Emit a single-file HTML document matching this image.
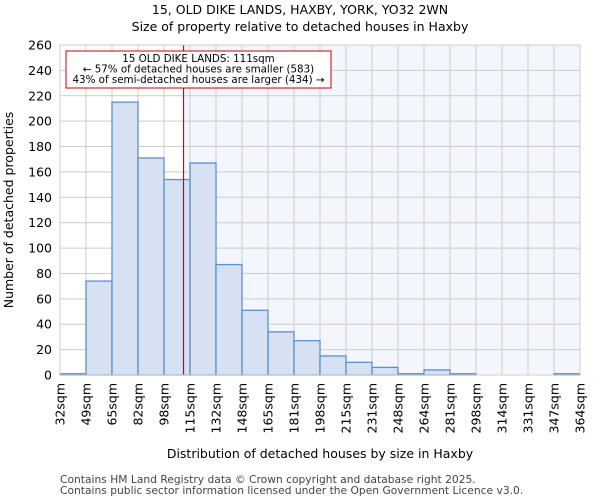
<!DOCTYPE html>
<html><head><meta charset="utf-8"><style>
body{margin:0;background:#fff;font-family:"DejaVu Sans","Liberation Sans",sans-serif;}
</style></head><body>
<svg id="chart" width="600" height="500" xmlns="http://www.w3.org/2000/svg" font-family="DejaVu Sans, Liberation Sans, sans-serif">
<text x="300" y="14" text-anchor="middle" font-size="12.5">15, OLD DIKE LANDS, HAXBY, YORK, YO32 2WN</text>
<text x="300" y="31" text-anchor="middle" font-size="12.5">Size of property relative to detached houses in Haxby</text>
<g id="plot"></g>
<text x="320" y="458" text-anchor="middle" font-size="12.5">Distribution of detached houses by size in Haxby</text>
<text transform="translate(13,210) rotate(-90)" text-anchor="middle" font-size="12.5">Number of detached properties</text>
<text x="60" y="483" font-size="10.7" fill="#444">Contains HM Land Registry data © Crown copyright and database right 2025.</text>
<text x="60" y="494" font-size="10.7" fill="#444">Contains public sector information licensed under the Open Government Licence v3.0.</text>
</svg>
<script>
const binLabels=["32sqm","49sqm","65sqm","82sqm","98sqm","115sqm","132sqm","148sqm","165sqm","181sqm","198sqm","215sqm","231sqm","248sqm","264sqm","281sqm","298sqm","314sqm","331sqm","347sqm","364sqm"];
const counts=[1,74,215,171,154,167,87,51,34,27,15,10,6,1,4,1,0,0,0,1];
const yTicks=[0,20,40,60,80,100,120,140,160,180,200,220,240,260];
const markerBinPos=[4.75];
const NS="http://www.w3.org/2000/svg";
const L=60,R=580,T=45,B=375,YMAX=260;
const n=counts.length;
const x=i=>L+(R-L)*i/n;
const y=v=>B-(B-T)*v/YMAX;
const g=document.getElementById('plot');
function mk(t,a){const e=document.createElementNS(NS,t);for(const k in a)e.setAttribute(k,a[k]);g.appendChild(e);return e;}
const mx=x(markerBinPos[0]);
let e=mk('rect',{x:mx,y:T,width:R-mx,height:B-T,fill:'#f3f6fd'});


yTicks.forEach(v=>{
 let l=mk('line',{x1:L,x2:R,y1:y(v),y2:y(v),stroke:'#cccccc'});
 
 
 let t=mk('text',{x:L-8,y:y(v)+4.5,'text-anchor':'end','font-size':'12.5'});t.textContent=v;
 
 
});
binLabels.forEach((s,i)=>{
 let l=mk('line',{x1:x(i),x2:x(i),y1:T,y2:B,stroke:'#cccccc'});
 
 
 let t=mk('text',{transform:`translate(${x(i)+4.5},${B+8}) rotate(-90)`,'text-anchor':'end','font-size':'12.5'});t.textContent=s;
 
 
});
counts.forEach((c,i)=>{
 if(c<=0)return;
 let r=mk('rect',{x:x(i),y:y(c),width:x(i+1)-x(i),height:B-y(c),fill:'#d6e1f3',stroke:'#5b8fd6','stroke-width':1.3});
 
 
});
let ml=mk('line',{x1:mx,x2:mx,y1:T,y2:B,stroke:'#dd0000','stroke-width':1.2});


let box=mk('rect',{x:66,y:51,width:265,height:37,fill:'#fff',stroke:'#cc0000','stroke-width':1});


["15 OLD DIKE LANDS: 111sqm","← 57% of detached houses are smaller (583)","43% of semi-detached houses are larger (434) →"].forEach((s,i)=>{
 let t=mk('text',{x:198.5,y:62+i*10.5,'text-anchor':'middle','font-size':'10.3'});t.textContent=s;
 
 
});
let ax=mk('rect',{x:L,y:T,width:R-L,height:B-T,fill:'none',stroke:'#cccccc'});


</script>
</body></html>
